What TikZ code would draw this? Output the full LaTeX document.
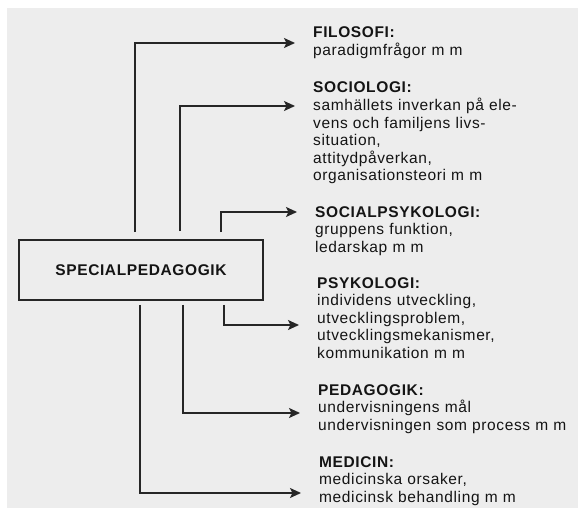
\documentclass[tikz,border=0pt]{standalone}
\usepackage{fontspec}
\setmainfont{Liberation Sans}[LetterSpace=4]
\usetikzlibrary{arrows.meta}

\begin{document}
\begin{tikzpicture}[x=1pt,y=-1pt,>={Stealth[length=11pt,width=10pt,inset=2.5pt]},
  link/.style={->,line width=1.7pt,draw=black!85},
  field/.style={anchor=base west,inner sep=0pt,text width=300pt,align=left,
    font=\fontsize{15.5}{17.6}\selectfont,text=black!92}]
\useasboundingbox (0,0) rectangle (578,508);
\fill[black!7] (7,8) rectangle (578,508);
\node[draw=black!85,line width=1.7pt,minimum width=244pt,minimum height=60pt,inner sep=0pt,
  text=black!92,font=\bfseries\fontsize{15.5}{17}\selectfont] (sp) at (141,270) {SPECIALPEDAGOGIK};
\node[field] (filo) at (313,38) {\textbf{FILOSOFI:}\\paradigmfrågor m m};
\node[field] (soc) at (313,93) {\textbf{SOCIOLOGI:}\\samhällets inverkan på ele-\\vens och familjens livs-\\situation,\\attitydpåverkan,\\organisationsteori m m};
\node[field] (socpsy) at (315,217) {\textbf{SOCIALPSYKOLOGI:}\\gruppens funktion,\\ledarskap m m};
\node[field] (psy) at (317,288) {\textbf{PSYKOLOGI:}\\individens utveckling,\\utvecklingsproblem,\\utvecklingsmekanismer,\\kommunikation m m};
\node[field] (ped) at (318,395) {\textbf{PEDAGOGIK:}\\undervisningens mål\\undervisningen som process m m};
\node[field] (med) at (319,467) {\textbf{MEDICIN:}\\medicinska orsaker,\\medicinsk behandling m m};
% upp fran rutan
\draw[link] ([yshift=7pt]sp.north -| 135,0) |- ([xshift=-18pt]filo.west |- 0,43);
\draw[link] ([yshift=8pt]sp.north -| 180,0) |- ([xshift=-18pt]soc.west |- 0,106);
\draw[link] ([yshift=7pt]sp.north -| 221,0) |- ([xshift=-18pt]socpsy.west |- 0,212);
% ned fran rutan
\draw[link] ([yshift=-4pt]sp.south -| 224,0) |- ([xshift=-18pt]psy.west |- 0,325);
\draw[link] ([yshift=-4pt]sp.south -| 183,0) |- ([xshift=-18pt]ped.west |- 0,413);
\draw[link] ([yshift=-4pt]sp.south -| 140,0) |- ([xshift=-18pt]med.west |- 0,493);
\end{tikzpicture}
\end{document}
